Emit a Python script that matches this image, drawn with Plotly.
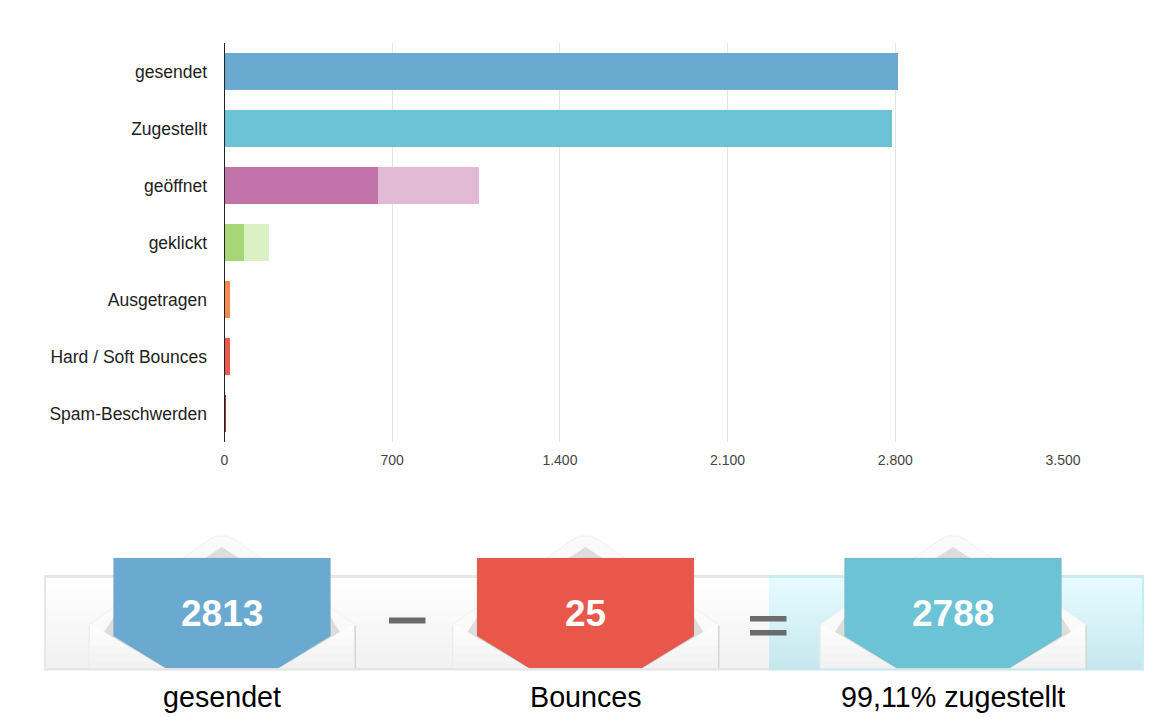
import plotly.graph_objects as go

categories = ["gesendet", "Zugestellt", "geöffnet", "geklickt", "Ausgetragen", "Hard / Soft Bounces", "Spam-Beschwerden"]
primary = [2813, 2788, 641, 81, 22, 25, 1]
extra = [0, 0, 423, 103, 0, 0, 0]
primary_colors = ["#6baad0", "#6cc3d5", "#c172a8", "#a7d676", "#f58a4e", "#ea5a4d", "#8a3a35"]
extra_colors = ["#6baad0", "#6cc3d5", "#e3bad6", "#dcf0c6", "#f58a4e", "#ea5a4d", "#8a3a35"]
tick_values = [0, 700, 1400, 2100, 2800, 3500]

summary_numbers = ["2813", "25", "2788"]
summary_labels = ["gesendet", "Bounces", "99,11% zugestellt"]
summary_colors = ["#6baad0", "#e9564a", "#6cc3d5"]
summary_centers = [222, 585.5, 953]

W, H = 1159, 717
fx = lambda p: p / W
fy = lambda p: 1 - p / H

fig = go.Figure()
fig.add_trace(go.Bar(y=categories, x=primary, orientation="h", marker=dict(color=primary_colors, line=dict(width=0)), hoverinfo="x+y"))
fig.add_trace(go.Bar(y=categories, x=extra, orientation="h", marker=dict(color=extra_colors, line=dict(width=0)), hoverinfo="x+y"))

shapes = []
def rect(x0, y0, x1, y1, color, line=None, lw=0):
    shapes.append(dict(type="rect", xref="paper", yref="paper", x0=fx(x0), x1=fx(x1), y0=fy(y0), y1=fy(y1),
                       fillcolor=color, line=dict(color=line or color, width=lw), layer="above"))
def poly(points, color, line=None, lw=0):
    d = "M" + " L".join(f"{fx(a):.5f},{fy(b):.5f}" for a, b in points) + " Z"
    shapes.append(dict(type="path", xref="paper", yref="paper", path=d, fillcolor=color,
                       line=dict(color=line or color, width=lw), layer="above"))

def lerp(c0, c1, t):
    return "rgb(" + ",".join(str(round(a + (b - a) * t)) for a, b in zip(c0, c1)) + ")"

# banner background with vertical gradients
top, bot = 577, 669
strips = 23
for i in range(strips):
    y0 = top + (bot - top) * i / strips
    y1 = top + (bot - top) * (i + 1) / strips + 0.5
    t = i / (strips - 1)
    rect(45, y0, 769, y1, lerp((255, 255, 255), (241, 241, 241), t))
    rect(769, y0, 1143, y1, lerp((230, 251, 255), (197, 232, 238), t))
rect(44, 575, 769, 578, "#e6e6e6")
rect(44, 668, 769, 670.5, "#e4e4e4")
rect(44, 575, 46, 670.5, "#e6e6e6")
rect(769, 575, 1144, 578, "#c8ecf3")
rect(769, 668, 1144, 670.5, "#c5e6ec")
rect(1142, 575, 1144, 670.5, "#c8ecf3")

# operators
rect(389, 617.5, 425.5, 623.5, "#6b6b6b")
rect(750, 616, 786.5, 621.5, "#6b6b6b")
rect(750, 630, 786.5, 635.5, "#6b6b6b")

# envelopes
for c, col in zip(summary_centers, summary_colors):
    rect(c - 133.5, 626, c - 132, 668, "#ececec")
    rect(c + 132, 626, c + 134, 668, "#d6d6d6")
    poly([(c - 132, 668), (c - 132, 624), (c - 12, 539), (c - 5, 536), (c + 5, 536), (c + 12, 539), (c + 132, 624), (c + 132, 668)],
         "#fafafa", "#f0f0f0", 1)
    poly([(c - 118, 632), (c - 109, 618), (c, 547), (c + 109, 618), (c + 118, 632), (c + 60, 668), (c - 60, 668)], "#dcdddc")
    for k in range(6):
        t = k / 5
        y = 624 + 44 * k / 6
        y2 = 624 + 44 * (k + 1) / 6
        shade = lerp((253, 253, 253), (242, 242, 242), t)
        poly([(c - 132, y), (c - 132 + 75 * (y - 624) / 44, y), (c - 132 + 75 * (y2 - 624) / 44, y2), (c - 132, y2)], shade)
        poly([(c + 132, y), (c + 132 - 75 * (y - 624) / 44, y), (c + 132 - 75 * (y2 - 624) / 44, y2), (c + 132, y2)], shade)
    poly([(c - 108.5, 558), (c + 108.5, 558), (c + 108.5, 636), (c + 56.5, 668), (c - 56.5, 668), (c - 108.5, 636)], col, "rgba(150,150,150,0.2)", 1)

annotations = []
for c, num, lab in zip(summary_centers, summary_numbers, summary_labels):
    annotations.append(dict(xref="paper", yref="paper", x=fx(c), y=fy(613), text=num, showarrow=False,
                            xanchor="center", yanchor="middle",
                            font=dict(family="Liberation Sans", size=37, color="#ffffff", weight="bold")))
    annotations.append(dict(xref="paper", yref="paper", x=fx(c + 0.3), y=fy(697), text=lab, showarrow=False,
                            xanchor="center", yanchor="middle",
                            font=dict(family="Liberation Sans", size=28.7, color="#000000")))

fig.update_layout(
    width=W, height=H, autosize=False, barmode="stack", bargap=0.35, showlegend=False,
    margin=dict(l=0, r=0, t=0, b=0, autoexpand=False), paper_bgcolor="#ffffff", plot_bgcolor="#ffffff",
    separators=",.", shapes=shapes, annotations=annotations,
    font=dict(family="Liberation Sans", color="#222222"),
    xaxis=dict(domain=[224.5 / W, 1063 / W], range=[0, 3500], tickvals=tick_values, tickformat=",d",
               gridcolor="#e4e4e4", gridwidth=1.2, zeroline=False, showline=False, ticks="",
               tickfont=dict(size=14, color="#444444"), ticklabelstandoff=8),
    yaxis=dict(domain=[1 - 442 / H, 1 - 43 / H], categoryorder="array", categoryarray=categories[::-1],
               showgrid=False, zeroline=False, showline=True, linecolor="#222222", linewidth=1, ticks="",
               tickfont=dict(size=17.5, color="#222222"), ticklabelstandoff=13),
)
fig.write_html("out.html", post_script="document.body.style.margin='0';", config={"displayModeBar": False})
